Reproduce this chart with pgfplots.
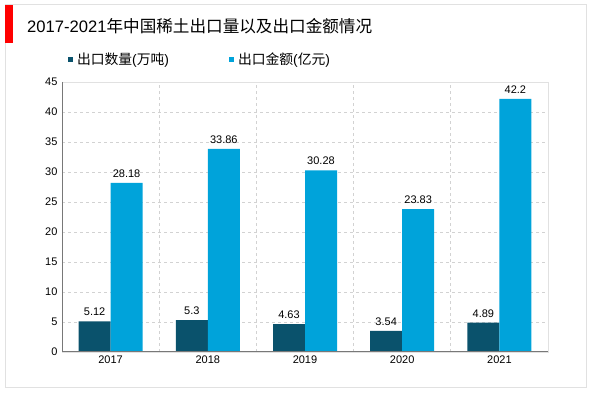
\documentclass[border=0pt]{standalone}
\usepackage{pgfplots}
\pgfplotsset{compat=1.18}
\usepackage{fontspec}
\setmainfont{Liberation Sans}
\newfontfamily\cjk{Noto Sans CJK SC}
\definecolor{darkbar}{RGB}{10,82,108}
\definecolor{lightbar}{RGB}{0,163,218}
\definecolor{framegray}{RGB}{225,225,225}
\definecolor{gridgray}{RGB}{210,210,210}
\definecolor{axisgray}{RGB}{120,120,120}
\begin{document}
\begin{tikzpicture}[x=1pt,y=1pt]
\path (0,0) rectangle (600,393);
\draw[framegray,line width=1pt] (5,5) rectangle (586,388);
\fill[red] (5,350) rectangle (13,388);
\node[anchor=base west,inner sep=0,font=\fontsize{16.6}{18}\selectfont] at (27,360) {2017-2021{\cjk 年中国稀土出口量以及出口金额情况}};
\begin{axis}[
  scale only axis, width=486pt, height=270pt,
  at={(62pt,41pt)}, anchor=south west,
  xmin=-0.5, xmax=4.5, ymin=0, ymax=45,
  xtick={0,1,2,3,4}, xticklabels={2017,2018,2019,2020,2021},
  minor xtick={0.5,1.5,2.5,3.5},
  ytick={0,5,...,45},
  major tick length=0pt, minor tick length=0pt,
  ymajorgrids, xminorgrids,
  grid style={gridgray, dashed, line width=0.7pt},
  minor grid style={gridgray, dashed, line width=0.7pt},
  axis line style={framegray, line width=0.8pt},
  tick label style={font=\fontsize{11}{13}\selectfont, black},
  /pgf/number format/assume math mode=true,
  yticklabel style={xshift=-1pt},
  ybar=0pt, bar width=32pt,
  nodes near coords,
  nodes near coords style={font=\fontsize{11}{13}\selectfont, black, yshift=2pt},
  legend style={at={(0.012,1.085)}, anchor=west, draw=none, inner sep=0pt, legend columns=2,
    font=\fontsize{13.8}{15}\selectfont,
    /tikz/every even column/.append style={column sep=58pt},
    /tikz/every odd column/.append style={column sep=2pt}},
  legend image code/.code={\fill[#1] (0pt,-2.5pt) rectangle (5pt,2.5pt);},
]
\addplot[fill=darkbar, draw=none] coordinates {(0,5.12) (1,5.3) (2,4.63) (3,3.54) (4,4.89)};
\addplot[fill=lightbar, draw=none] coordinates {(0,28.18) (1,33.86) (2,30.28) (3,23.83) (4,42.2)};
\legend{{\cjk 出口数量}({\cjk 万吨}), {\cjk 出口金额}({\cjk 亿元})}
\draw[axisgray, line width=1.5pt] (rel axis cs:0,1) -- (rel axis cs:0,0) -- (rel axis cs:1,0);
\end{axis}
\end{tikzpicture}
\end{document}
